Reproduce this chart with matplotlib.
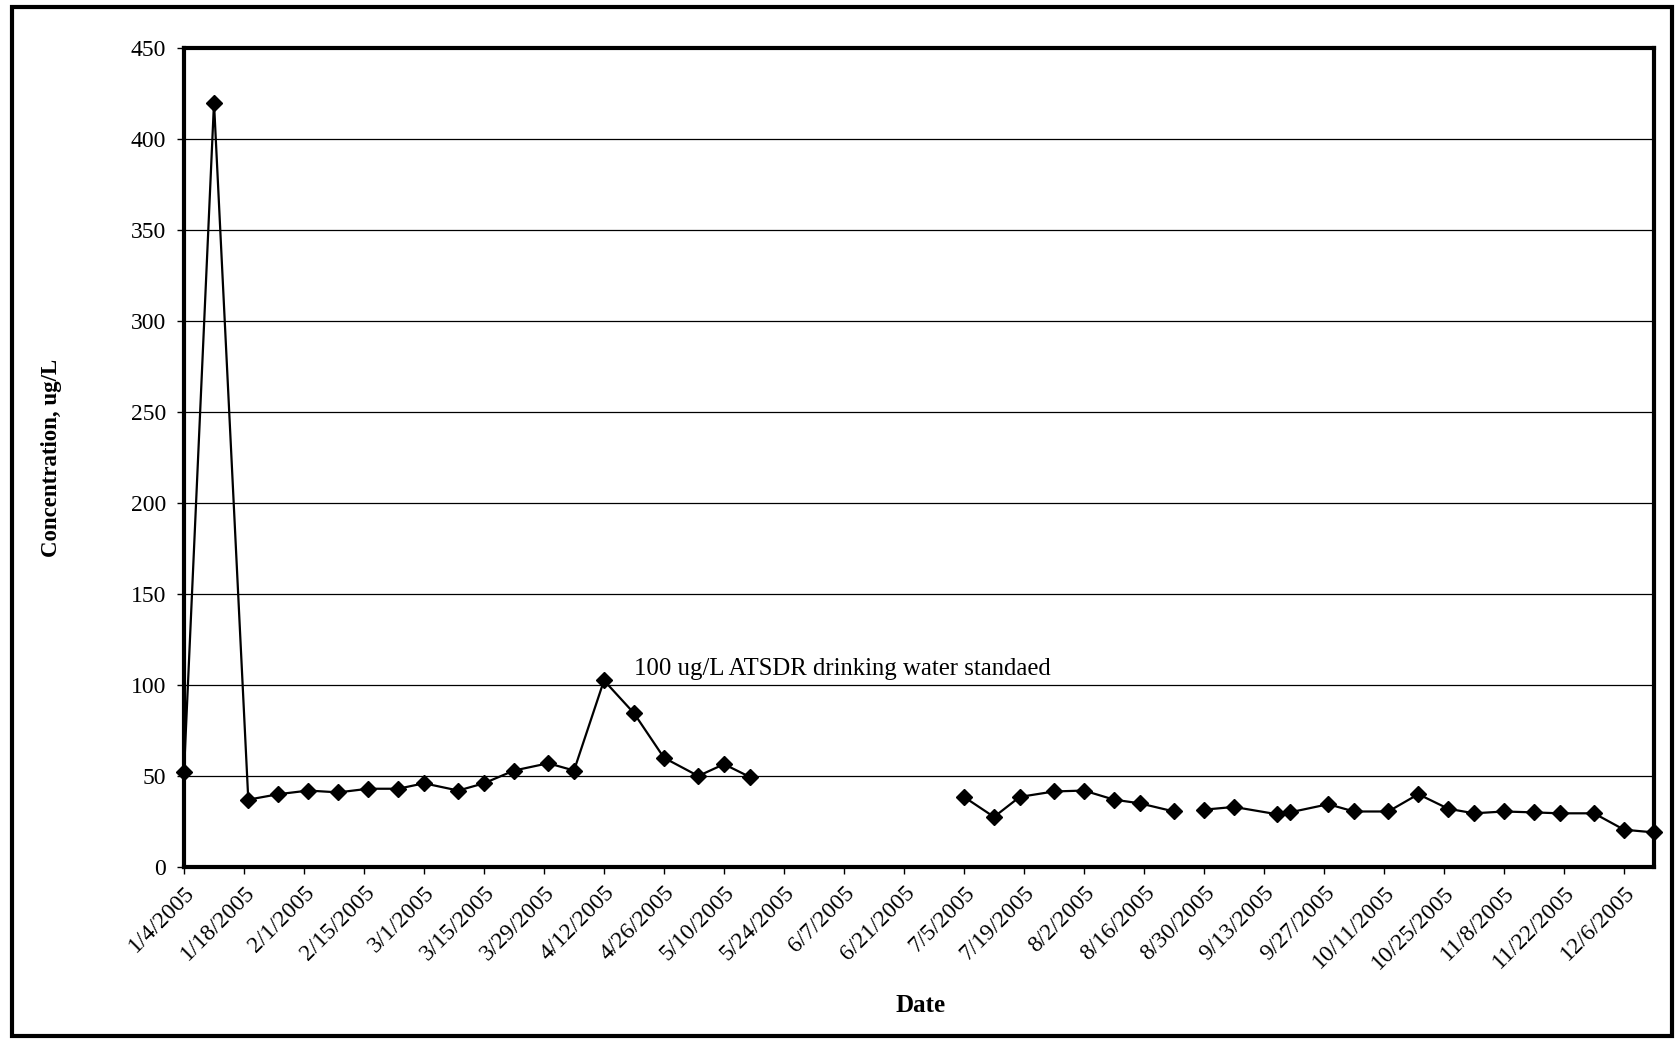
import numpy as np
import pandas as pd
import matplotlib
matplotlib.use("Agg")
from matplotlib import pyplot as plt
from matplotlib.patches import Rectangle

# sample dates and concentrations (NaN = no sample, breaks the line)
dates = [
    "2005-01-04", "2005-01-11", "2005-01-19", "2005-01-26", "2005-02-02",
    "2005-02-09", "2005-02-16", "2005-02-23", "2005-03-01", "2005-03-09",
    "2005-03-15", "2005-03-22", "2005-03-30", "2005-04-05", "2005-04-12",
    "2005-04-19", "2005-04-26", "2005-05-04", "2005-05-10", "2005-05-16",
    "2005-06-10",
    "2005-07-05", "2005-07-12", "2005-07-18", "2005-07-26", "2005-08-02",
    "2005-08-09", "2005-08-15", "2005-08-23",
    "2005-08-26",
    "2005-08-30", "2005-09-06", "2005-09-16", "2005-09-19", "2005-09-28",
    "2005-10-04", "2005-10-12", "2005-10-19", "2005-10-26", "2005-11-01",
    "2005-11-08", "2005-11-15", "2005-11-21", "2005-11-29", "2005-12-06",
    "2005-12-13",
]
concentration = [
    52, 420, 37, 40, 42,
    41, 43, 43, 46, 42,
    46, 53, 57, 53, 102.5,
    84.5, 60, 50, 56.5, 49.5,
    np.nan,
    38.5, 27.5, 38.5, 41.5, 42,
    37, 35, 30.5,
    np.nan,
    31.5, 33, 29, 30, 34.5,
    30.5, 30.5, 40, 32, 29.5,
    30.5, 30, 29.5, 29.5, 20.5,
    19,
]
annotation = "100 ug/L ATSDR drinking water standaed"

x = pd.to_datetime(dates)
tick_dates = pd.date_range("2005-01-04", "2005-12-06", freq="14D")
tick_labels = [f"{d.month}/{d.day}/{d.year}" for d in tick_dates]

plt.rcParams["font.family"] = ["Liberation Serif", "DejaVu Serif"]

fig = plt.figure(figsize=(16.79, 10.41), dpi=100)
ax = fig.add_axes([184 / 1679, 1 - 867 / 1041, (1654 - 184) / 1679, (867 - 48) / 1041])

ax.plot(x, concentration, color="black", lw=1.6, marker="D", markersize=8,
        markerfacecolor="black", markeredgecolor="black", clip_on=False, zorder=3)

ax.set_ylim(0, 450)
ax.set_yticks(np.arange(0, 451, 50))
ax.set_xlim(pd.Timestamp("2005-01-04"), pd.Timestamp("2005-12-13"))
ax.set_xticks(tick_dates)
ax.set_xticklabels(tick_labels, rotation=45, ha="right", rotation_mode="anchor",
                   fontsize=17)
ax.tick_params(axis="y", labelsize=17, length=5, width=1, direction="out", pad=8)
ax.tick_params(axis="x", length=5, width=1, direction="out", pad=6)

ax.grid(axis="y", color="black", lw=0.9)
ax.set_axisbelow(True)
for s in ax.spines.values():
    s.set_linewidth(3)

ax.set_ylabel("Concentration, ug/L", fontsize=16.5, fontweight="bold")
ax.yaxis.set_label_coords(-0.083, 0.5)
ax.set_xlabel("Date", fontsize=18, fontweight="bold")
ax.xaxis.set_label_coords(0.501, -0.155)

ax.text(pd.Timestamp("2005-04-19"), 103, annotation, fontsize=17.8, va="bottom")

# outer chart border
fig.patches.append(Rectangle((12 / 1679, 1 - 1036 / 1041), (1672 - 12) / 1679,
                             (1036 - 7) / 1041, transform=fig.transFigure,
                             fill=False, lw=3, edgecolor="black"))

fig.savefig("out.png", dpi=100)
